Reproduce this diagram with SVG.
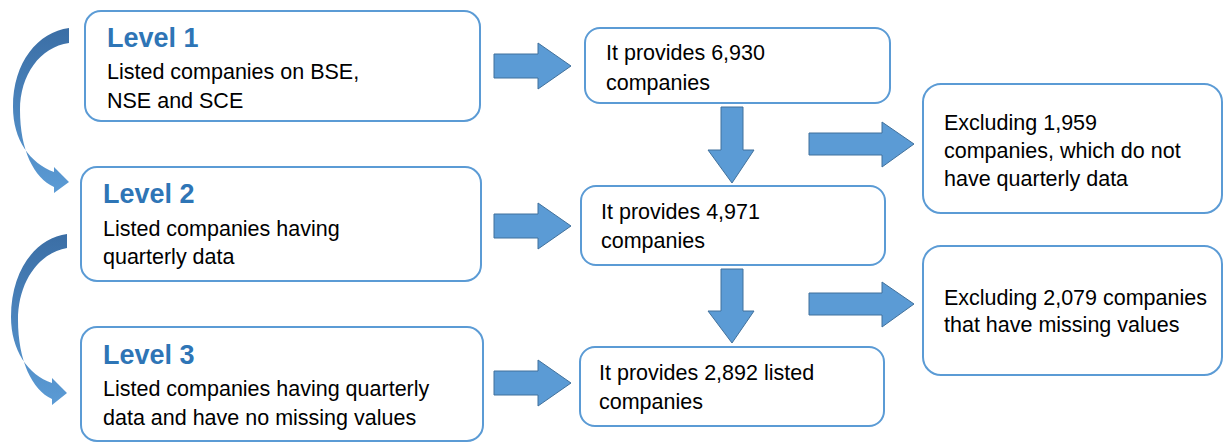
<svg xmlns="http://www.w3.org/2000/svg" width="1224" height="443" viewBox="0 0 1224 443">
<style>
.box{fill:#fff;stroke:#5b9bd5;stroke-width:2}
.t{font-family:"Liberation Sans",Arial,sans-serif;font-size:21.5px;fill:#000}
.h{font-family:"Liberation Sans",Arial,sans-serif;font-size:27px;font-weight:bold;fill:#2e75b6}
.blk{fill:#5b9bd5;stroke:#41719c;stroke-width:1}
.curve{fill:url(#cg)}
</style>
<defs>
<linearGradient id="cg" x1="0" y1="0" x2="0" y2="1">
<stop offset="0" stop-color="#3b6ea5"/>
<stop offset="1" stop-color="#5b9bd5"/>
</linearGradient>
</defs>
<g id="connectors">
<path class="curve" d="M69,28 C38,32 13,62 13,107 C13,140 30,163 54,172 L54,167 L69,182 L54,193 L54,187 C34,178 20,150 20,110 C20,75 40,47 69,43 Z"/>
<path class="curve" d="M67,234 C36,238 11,270 11,317 C11,350 28,375 52,383 L52,378 L67,393 L52,405 L52,399 C32,390 18,360 18,320 C18,283 38,253 67,248 Z"/>
<path class="blk" d="M494,54 L538,54 L538,43 L571,66 L538,89 L538,78 L494,78 Z"/>
<path class="blk" d="M494,214 L538,214 L538,203 L571,226 L538,249 L538,238 L494,238 Z"/>
<path class="blk" d="M494,371 L538,371 L538,360 L571,383 L538,406 L538,395 L494,395 Z"/>
<path class="blk" d="M721,107 L743,107 L743,150 L754,150 L732,183 L708,150 L721,150 Z"/>
<path class="blk" d="M721,269 L743,269 L743,311 L754,311 L732,343 L708,311 L721,311 Z"/>
<path class="blk" d="M809,133 L882,133 L882,122 L914,144 L882,167 L882,155 L809,155 Z"/>
<path class="blk" d="M809,293 L882,293 L882,282 L914,304 L882,327 L882,315 L809,315 Z"/>
</g>
<g id="level1">
<rect class="box" x="85" y="11" width="395" height="110" rx="16"/>
<text class="h" x="107" y="47">Level 1</text>
<text class="t" x="107" y="79">Listed companies on BSE,</text>
<text class="t" x="107" y="108">NSE and SCE</text>
</g>
<g id="level2">
<rect class="box" x="81" y="167" width="400" height="114" rx="16"/>
<text class="h" x="103" y="203">Level 2</text>
<text class="t" x="103" y="236">Listed companies having</text>
<text class="t" x="103" y="264">quarterly data</text>
</g>
<g id="level3">
<rect class="box" x="81" y="327" width="402" height="114" rx="16"/>
<text class="h" x="103" y="364">Level 3</text>
<text class="t" x="103" y="396">Listed companies having quarterly</text>
<text class="t" x="103" y="425">data and have no missing values</text>
</g>
<g id="provides1">
<rect class="box" x="585" y="28" width="305" height="75" rx="15"/>
<text class="t" x="606" y="60">It provides 6,930</text>
<text class="t" x="606" y="90">companies</text>
</g>
<g id="provides2">
<rect class="box" x="581" y="186" width="304" height="79" rx="15"/>
<text class="t" x="601" y="219">It provides 4,971</text>
<text class="t" x="601" y="248">companies</text>
</g>
<g id="provides3">
<rect class="box" x="580" y="347" width="304" height="79" rx="15"/>
<text class="t" x="599" y="380">It provides 2,892 listed</text>
<text class="t" x="599" y="409">companies</text>
</g>
<g id="exclude1">
<rect class="box" x="923" y="84" width="299" height="129" rx="18"/>
<text class="t" x="944" y="130">Excluding 1,959</text>
<text class="t" x="944" y="158">companies, which do not</text>
<text class="t" x="944" y="186">have quarterly data</text>
</g>
<g id="exclude2">
<rect class="box" x="923" y="246" width="299" height="129" rx="18"/>
<text class="t" x="944" y="305">Excluding 2,079 companies</text>
<text class="t" x="944" y="332">that have missing values</text>
</g>
</svg>
